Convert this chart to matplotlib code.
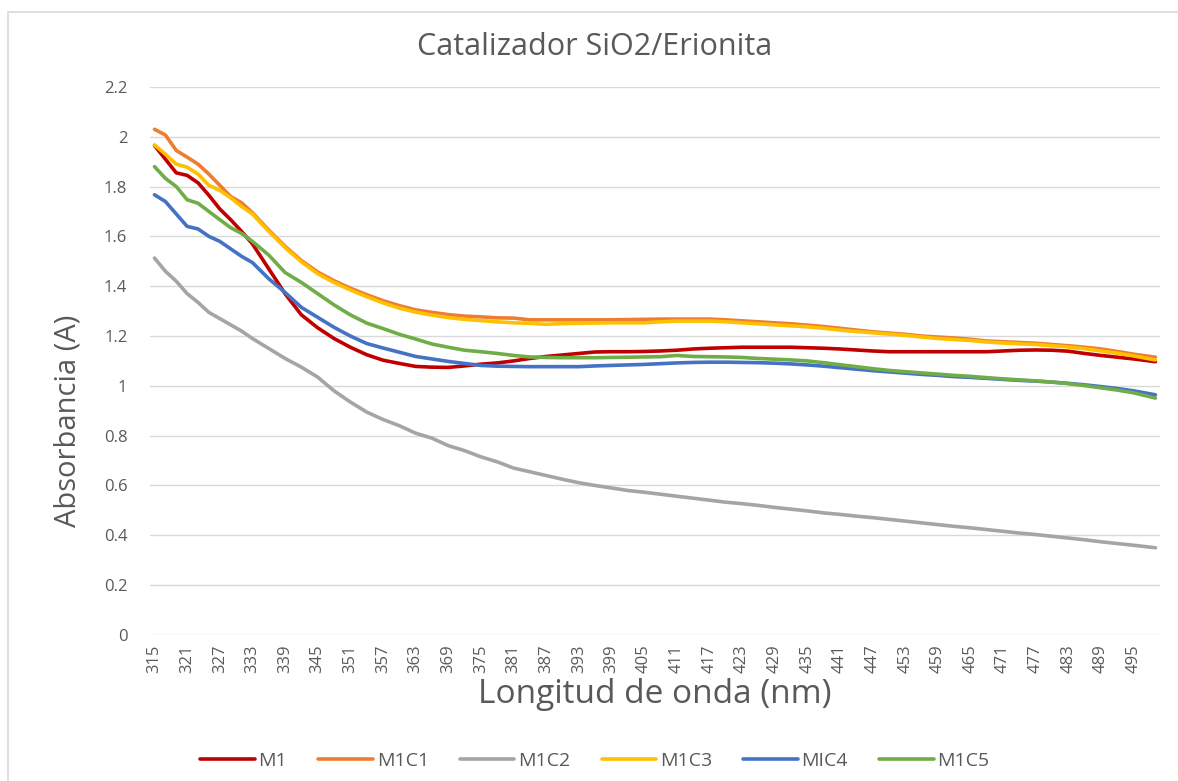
import matplotlib
matplotlib.use("Agg")
import matplotlib.pyplot as plt
from matplotlib.patches import Rectangle

plt.rcParams['font.family'] = ['Open Sans', 'DejaVu Sans']

wavelength = [315, 317, 319, 321, 323, 325, 327, 329, 331,
              333, 336, 339, 342, 345, 348, 351, 354, 357, 360, 363, 366, 369, 372,
              375, 378, 381, 384, 387, 390, 393, 396, 399, 402, 405, 408, 411, 414,
              417, 420, 423, 426, 429, 432, 435, 438, 441, 444, 447, 450, 453, 456,
              459, 462, 465, 468, 471, 474, 477, 480, 483, 486, 489, 492, 495, 499]

m1 = [1.965, 1.91, 1.855, 1.845, 1.815, 1.765, 1.71, 1.667, 1.62,
      1.57, 1.47, 1.37, 1.285, 1.233, 1.19, 1.155, 1.125, 1.103, 1.09, 1.078, 1.075, 1.074, 1.08,
      1.087, 1.092, 1.1, 1.11, 1.118, 1.124, 1.13, 1.136, 1.137, 1.137, 1.138, 1.14, 1.143, 1.148,
      1.151, 1.153, 1.155, 1.155, 1.155, 1.155, 1.153, 1.151, 1.148, 1.144, 1.14, 1.137, 1.137, 1.137,
      1.137, 1.137, 1.137, 1.137, 1.14, 1.143, 1.144, 1.143, 1.139, 1.13, 1.122, 1.115, 1.108, 1.097]

m1c1 = [2.03, 2.007, 1.945, 1.918, 1.89, 1.85, 1.805, 1.76, 1.735,
        1.695, 1.625, 1.56, 1.503, 1.457, 1.422, 1.392, 1.366, 1.342, 1.322, 1.305, 1.295, 1.286, 1.28,
        1.277, 1.273, 1.272, 1.265, 1.265, 1.265, 1.265, 1.265, 1.265, 1.266, 1.267, 1.268, 1.268, 1.268,
        1.268, 1.265, 1.261, 1.257, 1.253, 1.249, 1.244, 1.238, 1.231, 1.224, 1.217, 1.212, 1.207, 1.2,
        1.196, 1.192, 1.187, 1.18, 1.177, 1.174, 1.171, 1.166, 1.161, 1.155, 1.148, 1.138, 1.127, 1.115]

m1c2 = [1.513, 1.46, 1.42, 1.37, 1.335, 1.295, 1.27, 1.245, 1.22,
        1.19, 1.15, 1.11, 1.075, 1.035, 0.98, 0.935, 0.895, 0.865, 0.84, 0.81, 0.79, 0.76, 0.74,
        0.715, 0.695, 0.67, 0.655, 0.64, 0.625, 0.611, 0.6, 0.59, 0.58, 0.573, 0.565, 0.557, 0.549,
        0.541, 0.533, 0.527, 0.52, 0.512, 0.505, 0.498, 0.49, 0.484, 0.477, 0.471, 0.464, 0.457, 0.45,
        0.443, 0.436, 0.43, 0.423, 0.416, 0.409, 0.403, 0.396, 0.389, 0.382, 0.374, 0.367, 0.36, 0.35]

m1c3 = [1.967, 1.93, 1.89, 1.878, 1.85, 1.805, 1.785, 1.755, 1.72,
        1.69, 1.62, 1.555, 1.498, 1.45, 1.415, 1.385, 1.358, 1.333, 1.312, 1.296, 1.284, 1.274, 1.267,
        1.262, 1.257, 1.253, 1.251, 1.247, 1.25, 1.251, 1.252, 1.253, 1.253, 1.253, 1.257, 1.26, 1.26,
        1.26, 1.257, 1.253, 1.249, 1.245, 1.241, 1.237, 1.231, 1.224, 1.218, 1.213, 1.208, 1.203, 1.196,
        1.19, 1.186, 1.182, 1.176, 1.172, 1.169, 1.166, 1.161, 1.156, 1.149, 1.14, 1.131, 1.12, 1.104]

mic4 = [1.767, 1.74, 1.69, 1.64, 1.63, 1.6, 1.58, 1.55, 1.52,
        1.495, 1.43, 1.375, 1.315, 1.275, 1.235, 1.2, 1.17, 1.152, 1.135, 1.118, 1.108, 1.098, 1.09,
        1.082, 1.079, 1.078, 1.077, 1.077, 1.077, 1.077, 1.08, 1.082, 1.084, 1.086, 1.089, 1.092, 1.094,
        1.095, 1.095, 1.094, 1.093, 1.091, 1.088, 1.084, 1.079, 1.073, 1.067, 1.061, 1.056, 1.051, 1.046,
        1.042, 1.037, 1.034, 1.03, 1.026, 1.022, 1.019, 1.015, 1.01, 1.004, 0.997, 0.989, 0.98, 0.964]

m1c5 = [1.88, 1.833, 1.8, 1.747, 1.733, 1.7, 1.667, 1.635, 1.612,
        1.58, 1.525, 1.455, 1.415, 1.37, 1.325, 1.285, 1.252, 1.23, 1.207, 1.188, 1.168, 1.155, 1.143,
        1.137, 1.13, 1.122, 1.116, 1.114, 1.113, 1.113, 1.113, 1.114, 1.115, 1.116, 1.117, 1.122, 1.118,
        1.117, 1.116, 1.114, 1.11, 1.107, 1.104, 1.1, 1.093, 1.085, 1.077, 1.069, 1.062, 1.057, 1.052,
        1.047, 1.042, 1.038, 1.033, 1.028, 1.024, 1.02, 1.015, 1.009, 1.001, 0.992, 0.983, 0.972, 0.951]

series = [("M1", m1, "#C00000"), ("M1C1", m1c1, "#ED7D31"), ("M1C2", m1c2, "#A5A5A5"),
          ("M1C3", m1c3, "#FFC000"), ("MIC4", mic4, "#4472C4"), ("M1C5", m1c5, "#70AD47")]

xticks = list(range(315, 496, 6))
yticks = [0, 0.2, 0.4, 0.6, 0.8, 1, 1.2, 1.4, 1.6, 1.8, 2, 2.2]
ytick_labels = ["0", "0.2", "0.4", "0.6", "0.8", "1", "1.2", "1.4", "1.6", "1.8", "2", "2.2"]

text_col = "#595959"

fig = plt.figure(figsize=(11.78, 7.81), dpi=100)
fig.patches.append(Rectangle((0.007, -0.01), 1.0, 0.995, transform=fig.transFigure,
                             fill=False, edgecolor="#D9D9D9", linewidth=1.2))
ax = fig.add_axes([0.127, 0.187, 0.858, 0.7017])

for name, vals, col in series:
    ax.plot(wavelength, vals, color=col, linewidth=2.6, label=name, solid_capstyle='round')

ax.set_xlim(314.1, 499.9)
ax.set_ylim(0, 2.2)
ax.set_yticks(yticks)
ax.set_yticklabels(ytick_labels)
ax.set_xticks(xticks)
ax.set_xticklabels([str(t) for t in xticks], rotation=90)
ax.tick_params(axis='both', length=0, colors=text_col, labelsize=12)
ax.tick_params(axis='y', pad=16)
ax.tick_params(axis='x', pad=7)
ax.grid(axis='y', color="#D9D9D9", linewidth=1)
ax.set_axisbelow(True)
for s in ax.spines.values():
    s.set_visible(False)

fig.text(0.505, 0.94, "Catalizador SiO2/Erionita", fontsize=22, color=text_col,
         ha='center', va='center')
ax.set_xlabel("Longitud de onda (nm)", fontsize=24, color=text_col, labelpad=3)
ax.set_ylabel("Absorbancia (A)", fontsize=21, color=text_col)
ax.yaxis.set_label_coords(-0.066, 0.39)

fig.legend(loc='lower center', bbox_to_anchor=(0.505, -0.008), ncol=6, frameon=False,
           fontsize=14, handlelength=2.8, columnspacing=1.6, handletextpad=0.2,
           labelcolor=text_col)

fig.savefig("out.png", dpi=100)
